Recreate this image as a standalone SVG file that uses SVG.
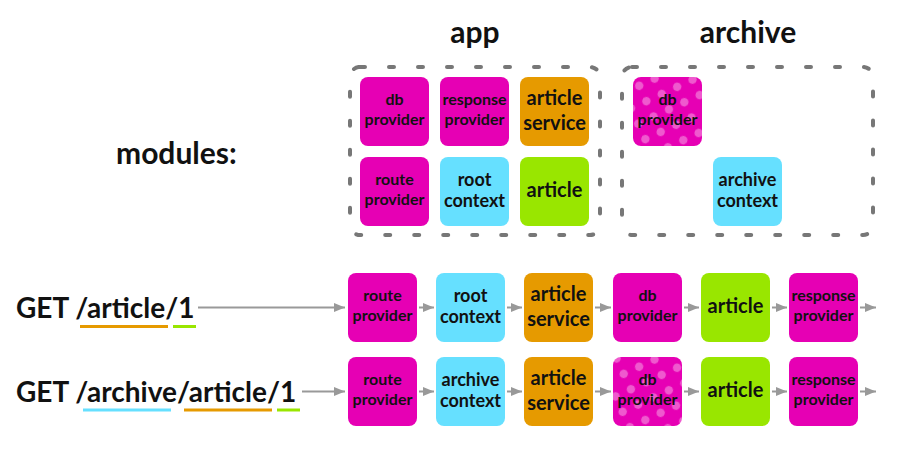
<svg xmlns="http://www.w3.org/2000/svg" width="900" height="450" viewBox="0 0 900 450">
<style>
text{font-family:Lato,"Noto Sans","Liberation Sans",sans-serif;font-weight:bold;fill:#111}
.title{font-size:30px}
.big{font-size:28px}
.mid{text-anchor:middle}
.s16{font-size:16px;text-anchor:middle}
.s18{font-size:18px;text-anchor:middle}
.s20{font-size:20px;text-anchor:middle}
.mag{fill:#e600b4}
.cyan{fill:#66e0ff}
.org{fill:#e69a00}
.grn{fill:#99e600}
.dots{fill:url(#polka)}
.module{fill:none;stroke:#777;stroke-width:4;stroke-linecap:round;stroke-dasharray:5 24}
.arr{stroke:#999;stroke-width:2;fill:none;marker-end:url(#ah)}
.ul{stroke-width:3}
</style>
<defs>
<marker id="ah" markerUnits="userSpaceOnUse" markerWidth="11" markerHeight="9" refX="11" refY="4.5" orient="auto">
<path d="M0,0 L11,4.5 L0,9 z" fill="#999"/>
</marker>
<pattern id="polka" patternUnits="userSpaceOnUse" width="24" height="24" patternTransform="rotate(20)">
<rect width="24" height="24" fill="#e600b4"/>
<circle cx="6" cy="6" r="4.2" fill="#fff" fill-opacity="0.35"/>
<circle cx="18" cy="18" r="4.2" fill="#fff" fill-opacity="0.35"/>
</pattern>
</defs>
<rect width="900" height="450" fill="#fff"/>

<text class="title mid" x="475" y="43">app</text>
<text class="title mid" x="748" y="43">archive</text>
<text class="title" x="116" y="164">modules:</text>

<g id="module-app">
<rect class="module" x="350" y="67" width="250" height="168" rx="10"/>
</g>
<g id="module-archive">
<rect class="module" x="622" y="67" width="251" height="168" rx="10"/>
</g>

<g id="app-db-provider"><rect class="mag" x="360" y="77" width="69" height="69" rx="8"/><text class="s16" x="394.5" y="105">db</text><text class="s16" x="394.5" y="125">provider</text></g>
<g id="app-response-provider"><rect class="mag" x="440" y="77" width="69" height="69" rx="8"/><text class="s16" x="474.5" y="105">response</text><text class="s16" x="474.5" y="125">provider</text></g>
<g id="app-article-service"><rect class="org" x="520" y="77" width="69" height="69" rx="8"/><text class="s20" x="554.5" y="105">article</text><text class="s20" x="554.5" y="130">service</text></g>
<g id="app-route-provider"><rect class="mag" x="360" y="157" width="69" height="69" rx="8"/><text class="s16" x="394.5" y="185">route</text><text class="s16" x="394.5" y="205">provider</text></g>
<g id="app-root-context"><rect class="cyan" x="440" y="157" width="69" height="69" rx="8"/><text class="s18" x="474.5" y="185.5">root</text><text class="s18" x="474.5" y="207">context</text></g>
<g id="app-article"><rect class="grn" x="520" y="157" width="69" height="69" rx="8"/><text class="s20" x="554.5" y="197">article</text></g>

<g id="archive-db-provider"><rect class="dots" x="633" y="77" width="69" height="69" rx="8"/><text class="s16" x="667.5" y="105">db</text><text class="s16" x="667.5" y="125">provider</text></g>
<g id="archive-context"><rect class="cyan" x="713" y="157" width="69" height="69" rx="8"/><text class="s18" x="747.5" y="185.5">archive</text><text class="s18" x="747.5" y="207">context</text></g>

<g id="req1-label">
<text class="big" x="16" y="318">GET /article/1</text>
<line class="ul" stroke="#e69a00" x1="80" y1="326.5" x2="168" y2="326.5"/>
<line class="ul" stroke="#99e600" x1="173" y1="326.5" x2="196" y2="326.5"/>
</g>
<g id="req2-label">
<text class="big" x="16" y="402">GET /archive/article/1</text>
<line class="ul" stroke="#66e0ff" x1="83" y1="410" x2="171" y2="410"/>
<line class="ul" stroke="#e69a00" x1="184" y1="410" x2="272" y2="410"/>
<line class="ul" stroke="#99e600" x1="277" y1="410" x2="300" y2="410"/>
</g>

<g id="r1-route-provider"><rect class="mag" x="348" y="273" width="69" height="69" rx="8"/><text class="s16" x="382.5" y="301">route</text><text class="s16" x="382.5" y="321">provider</text></g>
<g id="r1-root-context"><rect class="cyan" x="436" y="273" width="69" height="69" rx="8"/><text class="s18" x="470.5" y="301.5">root</text><text class="s18" x="470.5" y="323">context</text></g>
<g id="r1-article-service"><rect class="org" x="524" y="273" width="69" height="69" rx="8"/><text class="s20" x="558.5" y="301">article</text><text class="s20" x="558.5" y="326">service</text></g>
<g id="r1-db-provider"><rect class="mag" x="613" y="273" width="69" height="69" rx="8"/><text class="s16" x="647.5" y="301">db</text><text class="s16" x="647.5" y="321">provider</text></g>
<g id="r1-article"><rect class="grn" x="701" y="273" width="69" height="69" rx="8"/><text class="s20" x="735.5" y="313">article</text></g>
<g id="r1-response-provider"><rect class="mag" x="789" y="273" width="69" height="69" rx="8"/><text class="s16" x="823.5" y="301">response</text><text class="s16" x="823.5" y="321">provider</text></g>

<g id="r2-route-provider"><rect class="mag" x="348" y="357" width="69" height="69" rx="8"/><text class="s16" x="382.5" y="385">route</text><text class="s16" x="382.5" y="405">provider</text></g>
<g id="r2-archive-context"><rect class="cyan" x="436" y="357" width="69" height="69" rx="8"/><text class="s18" x="470.5" y="385.5">archive</text><text class="s18" x="470.5" y="407">context</text></g>
<g id="r2-article-service"><rect class="org" x="524" y="357" width="69" height="69" rx="8"/><text class="s20" x="558.5" y="385">article</text><text class="s20" x="558.5" y="410">service</text></g>
<g id="r2-db-provider"><rect class="dots" x="613" y="357" width="69" height="69" rx="8"/><text class="s16" x="647.5" y="385">db</text><text class="s16" x="647.5" y="405">provider</text></g>
<g id="r2-article"><rect class="grn" x="701" y="357" width="69" height="69" rx="8"/><text class="s20" x="735.5" y="397">article</text></g>
<g id="r2-response-provider"><rect class="mag" x="789" y="357" width="69" height="69" rx="8"/><text class="s16" x="823.5" y="385">response</text><text class="s16" x="823.5" y="405">provider</text></g>

<g id="connectors">
<line class="arr" x1="198" y1="307.5" x2="345" y2="307.5"/>
<line class="arr" x1="419" y1="307.5" x2="434" y2="307.5"/>
<line class="arr" x1="507" y1="307.5" x2="522" y2="307.5"/>
<line class="arr" x1="595" y1="307.5" x2="611" y2="307.5"/>
<line class="arr" x1="684" y1="307.5" x2="699" y2="307.5"/>
<line class="arr" x1="772" y1="307.5" x2="787" y2="307.5"/>
<line class="arr" x1="860" y1="307.5" x2="876" y2="307.5"/>
<line class="arr" x1="302" y1="391.5" x2="345" y2="391.5"/>
<line class="arr" x1="419" y1="391.5" x2="434" y2="391.5"/>
<line class="arr" x1="507" y1="391.5" x2="522" y2="391.5"/>
<line class="arr" x1="595" y1="391.5" x2="611" y2="391.5"/>
<line class="arr" x1="684" y1="391.5" x2="699" y2="391.5"/>
<line class="arr" x1="772" y1="391.5" x2="787" y2="391.5"/>
<line class="arr" x1="860" y1="391.5" x2="876" y2="391.5"/>
</g>
</svg>
